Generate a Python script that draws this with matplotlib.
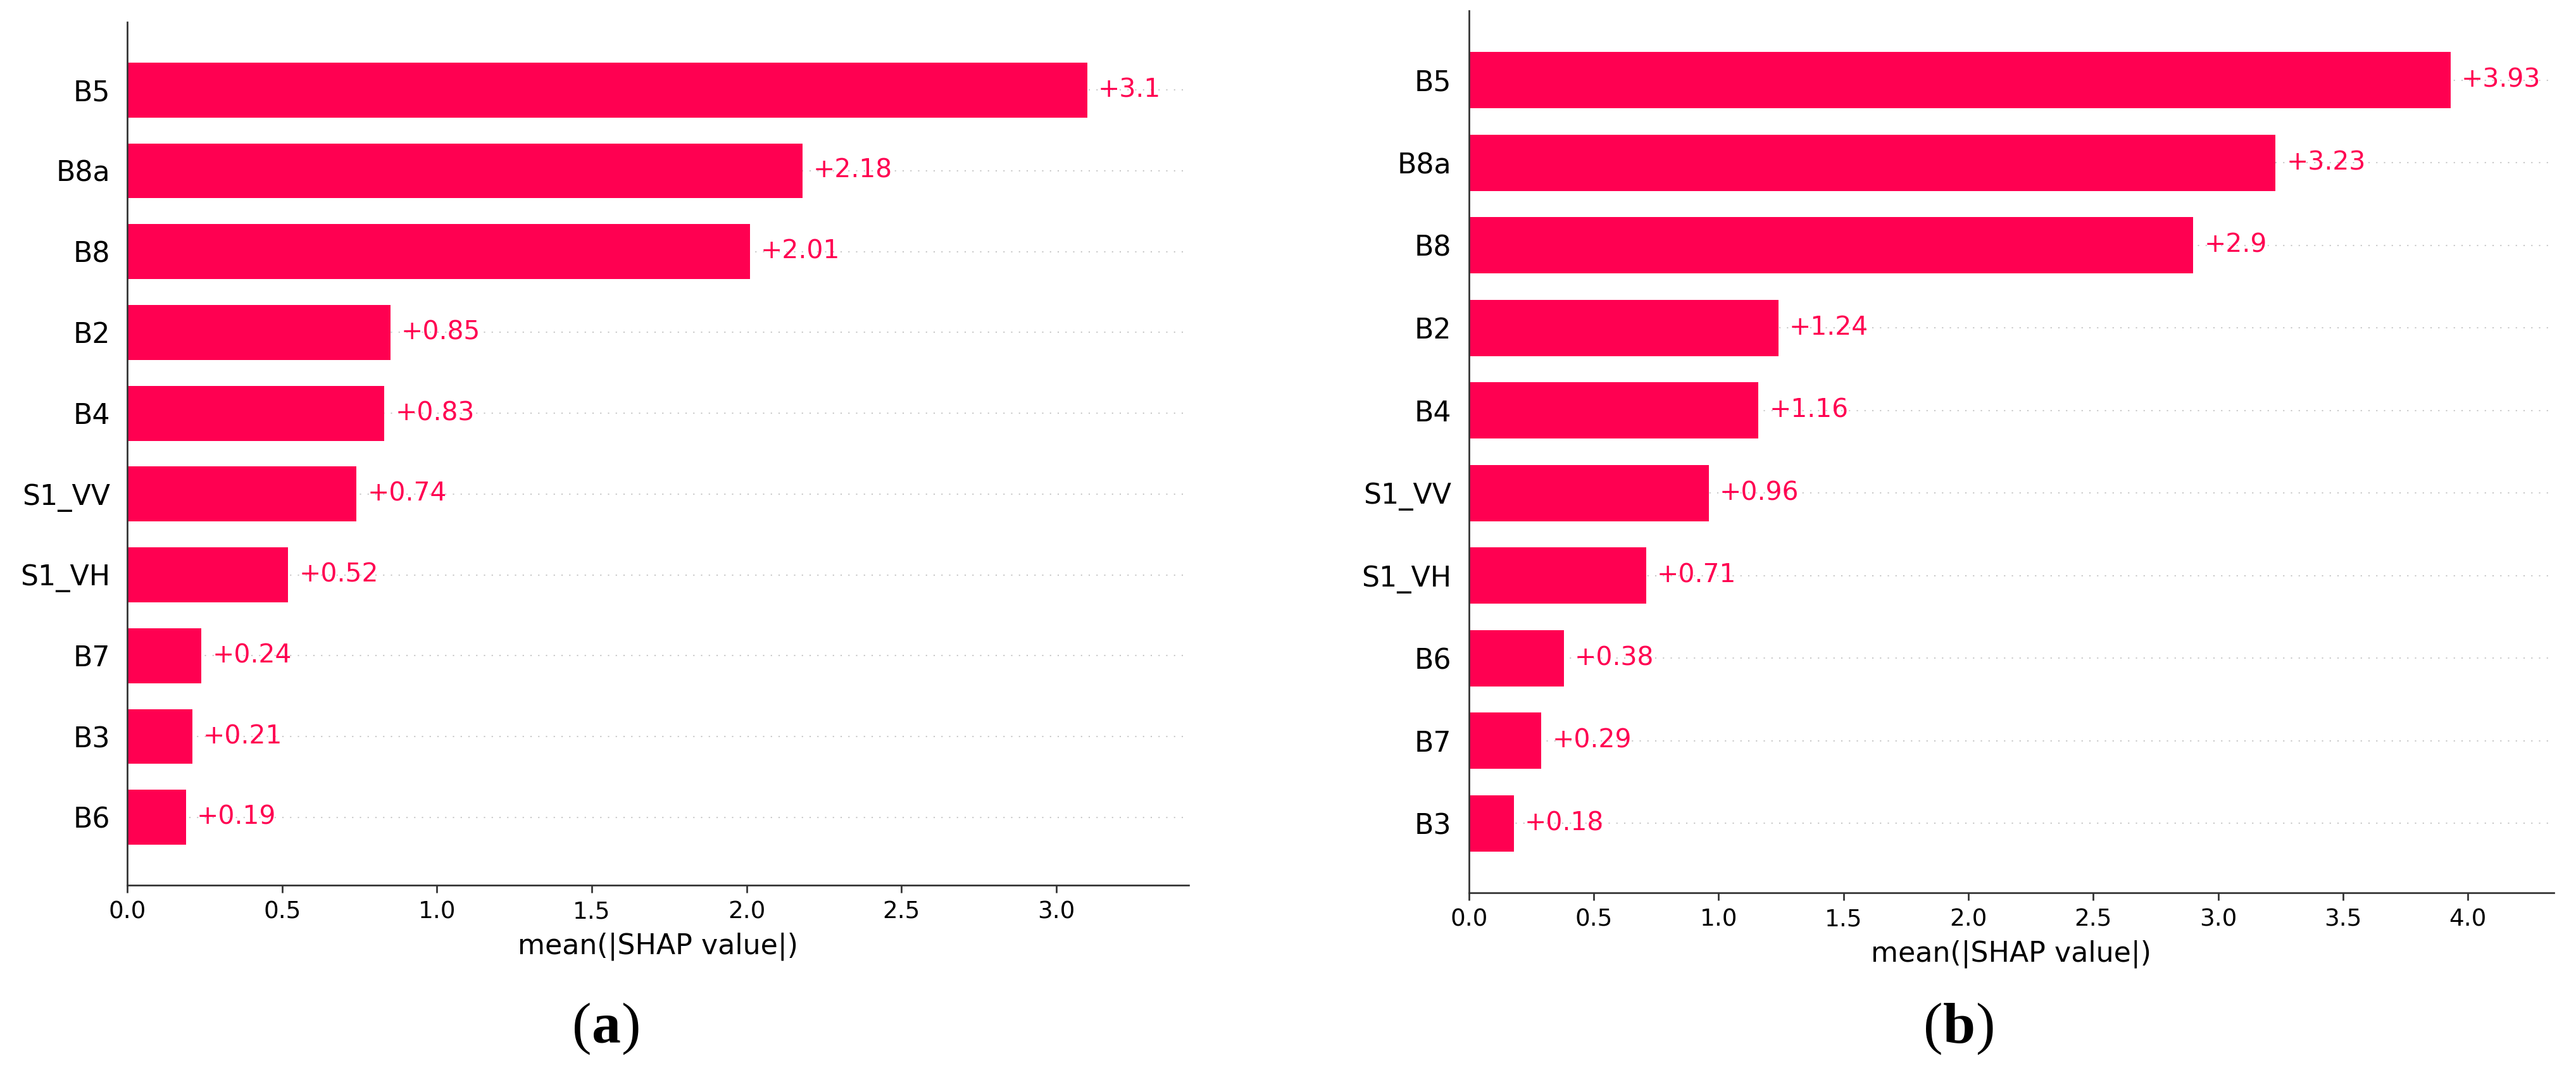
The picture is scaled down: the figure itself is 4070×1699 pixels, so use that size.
import matplotlib
matplotlib.use("Agg")
import matplotlib.pyplot as plt
import numpy as np

# ---- data ----
features_a = ['B5', 'B8a', 'B8', 'B2', 'B4', 'S1_VV', 'S1_VH', 'B7', 'B3', 'B6']
values_a = [3.10, 2.18, 2.01, 0.85, 0.83, 0.74, 0.52, 0.24, 0.21, 0.19]

features_b = ['B5', 'B8a', 'B8', 'B2', 'B4', 'S1_VV', 'S1_VH', 'B6', 'B7', 'B3']
values_b = [3.93, 3.23, 2.90, 1.24, 1.16, 0.96, 0.71, 0.38, 0.29, 0.18]

xticks_a = [0.0, 0.5, 1.0, 1.5, 2.0, 2.5, 3.0]
xticks_b = [0.0, 0.5, 1.0, 1.5, 2.0, 2.5, 3.0, 3.5, 4.0]
xlim_a = (0, 3.427)
xlim_b = (0, 4.344)
xlabel = 'mean(|SHAP value|)'
captions = ['a', 'b']

RED = '#ff0051'
DPI = 245
fig = plt.figure(figsize=(4070 / DPI, 1699 / DPI), dpi=DPI)
plt.rcParams['font.family'] = ['DejaVu Sans']


def fmt(v):
    s = ('%.2f' % v).rstrip('0').rstrip('.')
    return '+' + s


def panel(rect, feats, vals, xticks, xlim):
    ax = fig.add_axes(rect)
    n = len(feats)
    ypos = np.arange(n - 1, -1, -1)
    for y in ypos:
        ax.axhline(y, color='#c8c8c8', lw=0.6, dashes=(1, 5), zorder=-1)
    ax.barh(ypos, vals, height=0.68, color=RED, align='center', zorder=2)
    for y, v in zip(ypos, vals):
        ax.annotate(fmt(v), xy=(v, y), xytext=(5, 0), textcoords='offset points',
                    ha='left', va='center', color=RED, fontsize=12, zorder=3)
    ax.set_yticks(ypos)
    ax.set_yticklabels(feats, fontsize=13)
    ax.tick_params('y', length=0, pad=8)
    ax.set_xticks(xticks)
    ax.set_xticklabels(['%.1f' % t for t in xticks])
    ax.tick_params('x', labelsize=11, color='#333333')
    ax.set_xlim(*xlim)
    ax.set_ylim(-0.84, n - 1 + 0.84)
    ax.set_xlabel(xlabel, fontsize=13)
    for s in ['right', 'top']:
        ax.spines[s].set_visible(False)
    for s in ['left', 'bottom']:
        ax.spines[s].set_color('#333333')
    return ax


panel([0.04939, 0.17657, 0.41204, 0.80283], features_a, values_a, xticks_a, xlim_a)
panel([0.57020, 0.16951, 0.42120, 0.82048], features_b, values_b, xticks_b, xlim_b)

fig.canvas.draw()
renderer = fig.canvas.get_renderer()
serif = ['Liberation Serif', 'DejaVu Serif']
cy = 1 - 1648 / 1699
for cx, c in zip([958 / 4070, 3095 / 4070], captions):
    t = fig.text(cx, cy, c, ha='center', va='baseline', fontsize=27,
                 fontweight='bold', family=serif)
    bb = t.get_window_extent(renderer)
    x0 = bb.x0 / fig.bbox.width
    x1 = bb.x1 / fig.bbox.width
    fig.text(x0, cy, '(', ha='right', va='baseline', fontsize=27, family=serif)
    fig.text(x1, cy, ')', ha='left', va='baseline', fontsize=27, family=serif)

fig.savefig('out.png', dpi=DPI)
